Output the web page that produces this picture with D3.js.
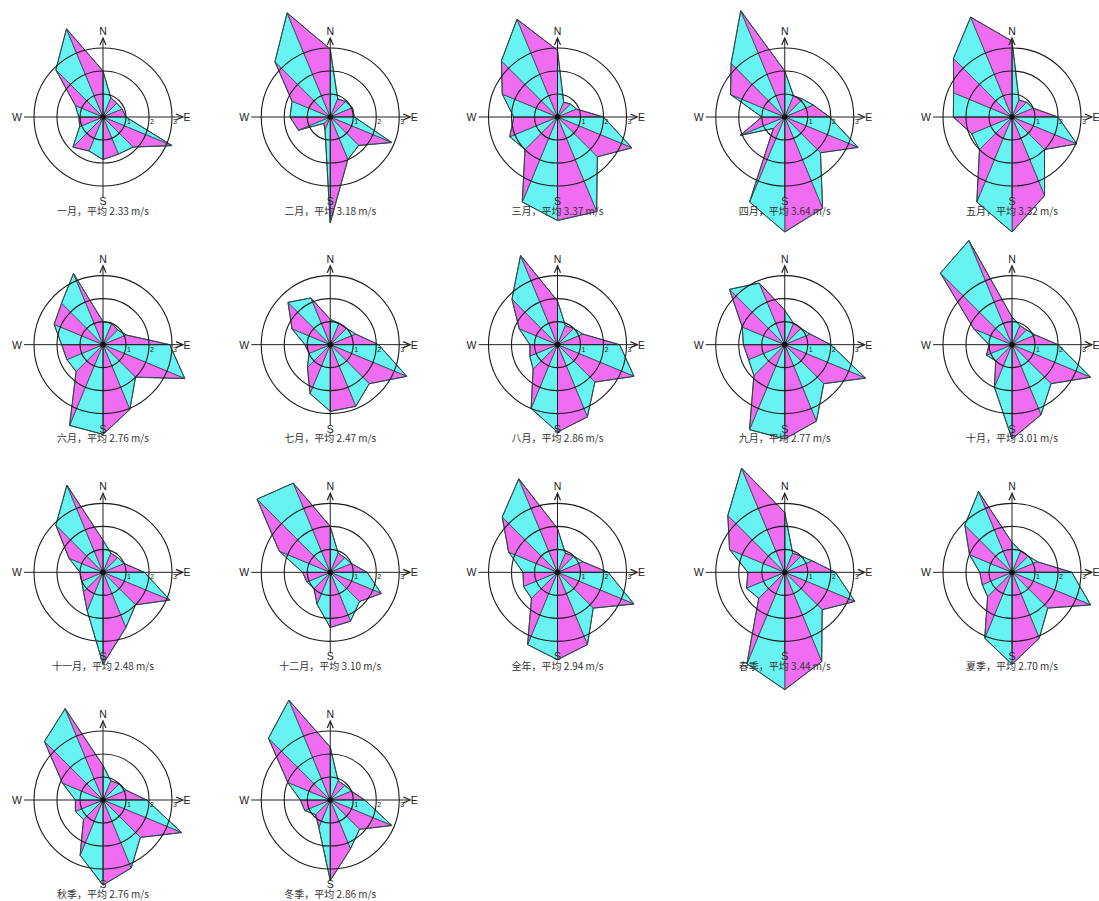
<!DOCTYPE html>
<html><head><meta charset="utf-8">
<script src="https://cdn.jsdelivr.net/npm/d3@7"></script>
<style>body{margin:0;background:#fff}svg{display:block}</style>
</head><body>
<svg id="chart" width="1099" height="901"></svg>
<script>
// 16 compass directions, clockwise from north
const directions = ["N","NNE","NE","ENE","E","ESE","SE","SSE","S","SSW","SW","WSW","W","WNW","NW","NNW"];
const roseNames = ["一月","二月","三月","四月","五月","六月","七月","八月","九月","十月","十一月","十二月","全年","春季","夏季","秋季","冬季"];
const roseMeans = ["2.33","3.18","3.37","3.64","3.32","2.76","2.47","2.86","2.77","3.01","2.48","3.10","2.94","3.44","2.70","2.76","2.86"];
const ringTicks = [1, 2, 3];

// mean wind speed (m/s) by direction, N..NNW
const jan = [2.0, 0.9, 0.85, 0.9, 1.0, 3.25, 1.85, 1.75, 1.85, 1.6, 1.85, 1.1, 1.05, 1.3, 2.9, 4.15];
const feb = [2.95, 0.85, 0.95, 1.05, 1.05, 2.9, 1.75, 2.0, 4.6, 0.6, 0.4, 1.5, 1.75, 1.8, 3.4, 4.9];
const mar = [2.9, 0.7, 0.8, 0.9, 2.0, 3.5, 2.45, 4.45, 4.5, 4.0, 2.0, 2.25, 1.9, 2.6, 3.45, 4.6];
const apr = [2.0, 1.0, 1.1, 1.35, 1.95, 3.45, 2.2, 4.3, 5.0, 4.0, 0.7, 2.1, 1.0, 2.55, 3.3, 5.0];
const may = [3.3, 0.8, 0.9, 1.0, 2.0, 3.05, 2.0, 3.7, 5.0, 4.0, 2.0, 1.9, 2.55, 2.75, 3.6, 4.7];
const jun = [1.0, 1.0, 0.9, 1.1, 2.9, 3.85, 2.0, 3.05, 3.9, 3.8, 1.65, 1.7, 1.8, 2.3, 2.55, 3.35];
const jul = [1.1, 1.0, 1.0, 1.2, 2.1, 3.6, 2.4, 2.9, 2.9, 2.3, 1.4, 1.0, 1.1, 1.8, 2.6, 2.2];
const aug = [1.9, 0.9, 1.0, 1.2, 2.7, 3.6, 2.3, 3.4, 3.8, 3.0, 1.5, 1.3, 1.2, 1.8, 2.8, 4.2];
const sep = [1.5, 1.0, 1.0, 1.2, 2.0, 3.8, 2.4, 3.6, 4.1, 4.0, 1.9, 1.7, 1.8, 2.0, 3.4, 2.9];
const oct = [1.2, 0.9, 0.9, 1.1, 2.0, 3.7, 2.4, 3.3, 4.1, 2.0, 1.0, 1.2, 1.0, 1.8, 4.4, 4.9];
const nov = [1.4, 0.9, 0.9, 1.0, 1.8, 3.15, 2.0, 2.6, 4.0, 1.8, 1.2, 1.0, 1.0, 1.6, 2.9, 4.1];
const dec = [2.0, 0.9, 0.9, 1.0, 1.6, 2.4, 1.8, 2.3, 2.4, 1.5, 1.0, 1.1, 1.2, 2.4, 4.5, 4.2];
const year = [1.9, 0.9, 1.0, 1.2, 2.2, 3.6, 2.2, 3.4, 3.8, 3.4, 1.6, 1.6, 1.5, 2.3, 3.4, 4.4];
const spring = [2.6, 0.9, 1.0, 1.3, 2.2, 3.3, 2.3, 4.2, 5.1, 4.3, 1.6, 1.8, 1.6, 2.6, 3.5, 4.9];
const summer = [1.3, 1.0, 1.0, 1.2, 2.6, 3.7, 2.2, 3.1, 4.0, 3.1, 1.5, 1.4, 1.4, 2.0, 2.9, 3.8];
const autumn = [1.5, 0.9, 1.0, 1.1, 1.9, 3.7, 2.3, 3.2, 3.7, 2.6, 1.2, 1.3, 1.2, 1.9, 3.6, 4.3];
const winter = [2.3, 0.9, 0.9, 1.0, 1.5, 2.9, 1.8, 2.3, 3.5, 1.3, 0.9, 1.2, 1.3, 2.0, 3.8, 4.7];
const roseValues = [jan, feb, mar, apr, may, jun, jul, aug, sep, oct, nov, dec, year, spring, summer, autumn, winter];

const svg = d3.select("#chart");
const colX = d3.scaleLinear().domain([0, 4]).range([103, 1012]);
const rowY = d3.scaleLinear().domain([0, 3]).range([117, 800]);
const r = d3.scaleLinear().domain([0, 3]).range([0, 69]);
const ang = d3.scaleLinear().domain([0, directions.length]).range([0, 2 * Math.PI]);
const fills = ["#66f3f1", "#f06cf0"];
const lineCol = "#2b4747";

roseValues.forEach((vals, k) => {
  const cx = colX(k % 5), cy = rowY(Math.floor(k / 5));
  const g = svg.append("g").attr("transform", `translate(${cx},${cy})`);
  const pts = vals.map((v, i) => d3.pointRadial(ang(i), r(v)));

  // alternating coloured triangles between consecutive direction vertices
  const tri = d3.range(pts.length).map(i => [[0, 0], pts[i], pts[(i + 1) % pts.length]]);
  g.selectAll("path.tri").data(tri).join("path")
    .attr("class", "tri")
    .attr("d", d => d3.line()(d) + "Z")
    .attr("fill", (d, i) => fills[i % 2])
    .attr("stroke", lineCol).attr("stroke-width", 0.8).attr("stroke-linejoin", "round");

  // outline
  g.append("path").attr("d", d3.line().curve(d3.curveLinearClosed)(pts))
    .attr("fill", "none").attr("stroke", lineCol).attr("stroke-width", 1);

  // rings
  g.selectAll("circle.ring").data(ringTicks).join("circle")
    .attr("class", "ring").attr("r", d => r(d))
    .attr("fill", "none").attr("stroke", "#1a1a1a").attr("stroke-width", 1.1);

  // axes
  g.append("line").attr("x1", -79).attr("y1", 0).attr("x2", 79).attr("y2", 0).attr("stroke", "#222").attr("stroke-width", 1);
  g.append("line").attr("x1", 0).attr("y1", 81).attr("x2", 0).attr("y2", -78).attr("stroke", "#222").attr("stroke-width", 1);
  g.append("path").attr("d", "M73,-3L80,0L73,3").attr("fill", "none").attr("stroke", "#222").attr("stroke-width", 1.2);
  g.append("path").attr("d", "M-3,-72L0,-79L3,-72").attr("fill", "none").attr("stroke", "#222").attr("stroke-width", 1.2);

  g.append("circle").attr("r", 2.8).attr("fill", "#111");

  const lab = (t, x, y, anchor, size) => g.append("text").text(t)
    .attr("x", x).attr("y", y).attr("text-anchor", anchor)
    .attr("font-family", "Arial, 'Liberation Sans', sans-serif")
    .attr("font-size", size).attr("fill", "#222");
  lab("N", 0, -82, "middle", 10.5);
  lab("S", 0, 88, "middle", 10.5);
  lab("E", 80.5, 4, "start", 10.5);
  lab("W", -81, 4, "end", 10.5);
  ringTicks.forEach(t => lab(String(t), r(t) + 1, 7, "start", 7));

  g.append("text").text(`${roseNames[k]}，平均 ${roseMeans[k]} m/s`)
    .attr("x", 0).attr("y", 97.5).attr("text-anchor", "middle")
    .attr("font-family", "'Noto Sans CJK SC', sans-serif")
    .attr("font-size", 10).attr("fill", "#333");
});
</script>
</body></html>
